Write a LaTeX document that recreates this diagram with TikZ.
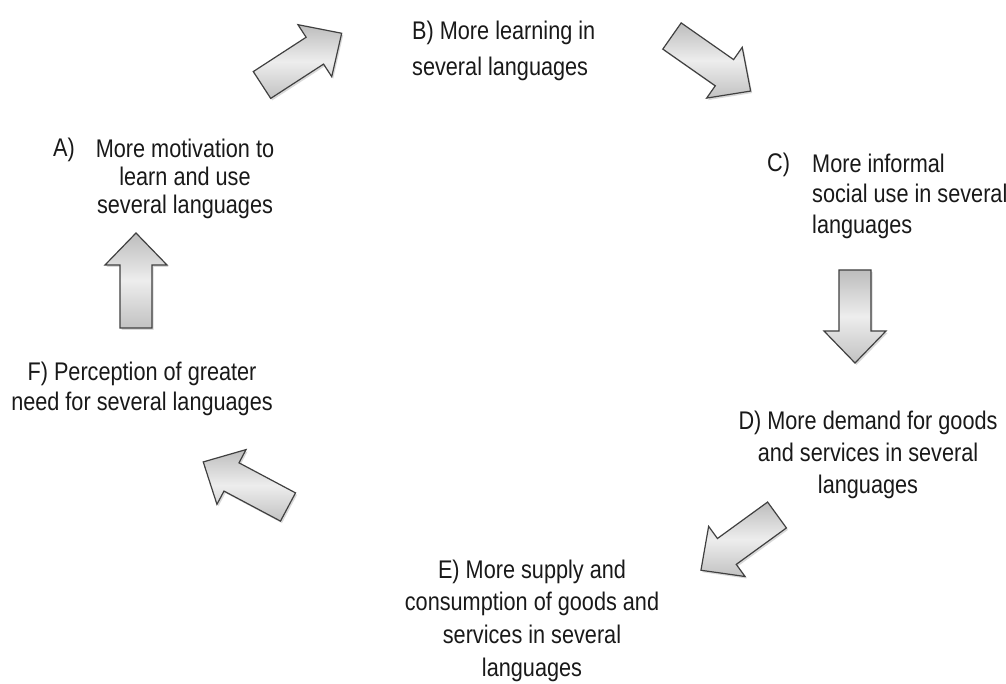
\documentclass[tikz,border=0pt]{standalone}
\usepackage{fontspec}
\setmainfont{Liberation Sans}[FakeStretch=0.85]
\usetikzlibrary{calc}
\tikzset{
  blk/.style={draw=black!75, line width=1.2pt, line join=miter,
    top color=black!26, bottom color=black!24, middle color=black!7},
  shd/.style={fill=black, opacity=0.15},
  lbl/.style={font=\fontsize{25.5}{#1}\selectfont, text=black!90, inner sep=0pt, align=center},
  lbl/.default=32
}
\newcommand\blockarrow[4]{% #1 name, #2 tail (image px), #3 angle, #4 length
  \pgfmathsetmacro\hb{#4-32}
  \begin{scope}[shift={(#2)}, rotate=#3]
    \coordinate (#1-tail) at (0,0);
    \coordinate (#1-tip) at (#4,0);
    \path[shd, transform canvas={xshift=1.5pt, yshift=-2pt}]
      (0,-16) -- (\hb,-16) -- (\hb,-31) -- (#4,0) -- (\hb,31) -- (\hb,16) -- (0,16) -- cycle;
    \path[blk] (0,-16) -- (\hb,-16) -- (\hb,-31) -- (#4,0) -- (\hb,31) -- (\hb,16) -- (0,16) -- cycle;
  \end{scope}}
\begin{document}
\begin{tikzpicture}[x=1pt, y=-1pt]
  \useasboundingbox (0,0) rectangle (1006,684);
  \fill[white] (0,0) rectangle (1006,684);

  % block arrows
  \blockarrow{ab}{262,85}{33}{95}
  \blockarrow{bc}{672,36}{-35}{96}
  \blockarrow{cd}{855,270}{-90}{93}
  \blockarrow{de}{777,515}{216}{94}
  \blockarrow{ef}{288,507}{152}{96}
  \blockarrow{fa}{136,328}{90}{95}

  % labels
  \node[lbl, anchor=base west] (Alab) at (53,157) {A)};
  \node[lbl=28, anchor=north] (A) at (185,138.5) {More motivation to\\learn and use\\several languages};

  \node[lbl=36, anchor=north west, align=left] (B) at (412,20.5) {B) More learning in\\several languages};

  \node[lbl, anchor=base west] (Clab) at (767,172) {C)};
  \node[lbl=30.5, anchor=north west, align=left] (C) at (812,153.5) {More informal\\social use in several\\languages};

  \node[lbl=32, anchor=north] (D) at (868,410.5) {D) More demand for goods\\and services in several\\languages};

  \node[lbl=32.7, anchor=north] (E) at (532,559.5) {E) More supply and\\consumption of goods and\\services in several\\languages};

  \node[lbl=30, anchor=north] (F) at (142,361.5) {F) Perception of greater\\need for several languages};
\end{tikzpicture}
\end{document}
